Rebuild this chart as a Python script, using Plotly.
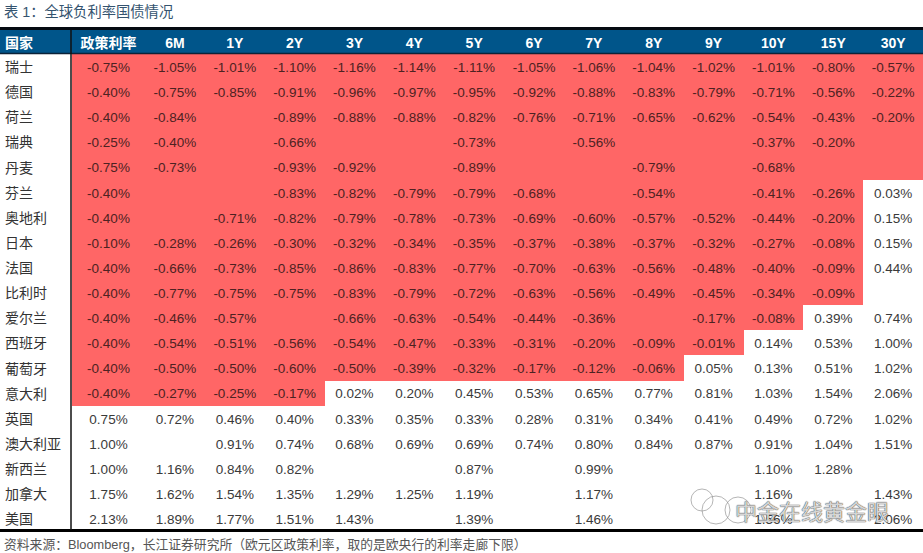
import plotly.graph_objects as go

W, H = 923, 553

tenors = ["政策利率", "6M", "1Y", "2Y", "3Y", "4Y", "5Y", "6Y", "7Y", "8Y", "9Y", "10Y", "15Y", "30Y"]
countries = ["瑞士", "德国", "荷兰", "瑞典", "丹麦", "芬兰", "奥地利", "日本", "法国", "比利时",
             "爱尔兰", "西班牙", "葡萄牙", "意大利", "英国", "澳大利亚", "新西兰", "加拿大", "美国"]

# one list per tenor, top to bottom, None where the source cell is blank
policy = [-0.75, -0.40, -0.40, -0.25, -0.75, -0.40, -0.40, -0.10, -0.40, -0.40, -0.40, -0.40, -0.40, -0.40, 0.75, 1.00, 1.00, 1.75, 2.13]
m6 = [-1.05, -0.75, -0.84, -0.40, -0.73, None, None, -0.28, -0.66, -0.77, -0.46, -0.54, -0.50, -0.27, 0.72, None, 1.16, 1.62, 1.89]
y1 = [-1.01, -0.85, None, None, None, None, -0.71, -0.26, -0.73, -0.75, -0.57, -0.51, -0.50, -0.25, 0.46, 0.91, 0.84, 1.54, 1.77]
y2 = [-1.10, -0.91, -0.89, -0.66, -0.93, -0.83, -0.82, -0.30, -0.85, -0.75, None, -0.56, -0.60, -0.17, 0.40, 0.74, 0.82, 1.35, 1.51]
y3 = [-1.16, -0.96, -0.88, None, -0.92, -0.82, -0.79, -0.32, -0.86, -0.83, -0.66, -0.54, -0.50, 0.02, 0.33, 0.68, None, 1.29, 1.43]
y4 = [-1.14, -0.97, -0.88, None, None, -0.79, -0.78, -0.34, -0.83, -0.79, -0.63, -0.47, -0.39, 0.20, 0.35, 0.69, None, 1.25, None]
y5 = [-1.11, -0.95, -0.82, -0.73, -0.89, -0.79, -0.73, -0.35, -0.77, -0.72, -0.54, -0.33, -0.32, 0.45, 0.33, 0.69, 0.87, 1.19, 1.39]
y6 = [-1.05, -0.92, -0.76, None, None, -0.68, -0.69, -0.37, -0.70, -0.63, -0.44, -0.31, -0.17, 0.53, 0.28, 0.74, None, None, None]
y7 = [-1.06, -0.88, -0.71, -0.56, None, None, -0.60, -0.38, -0.63, -0.56, -0.36, -0.20, -0.12, 0.65, 0.31, 0.80, 0.99, 1.17, 1.46]
y8 = [-1.04, -0.83, -0.65, None, -0.79, -0.54, -0.57, -0.37, -0.56, -0.49, None, -0.09, -0.06, 0.77, 0.34, 0.84, None, None, None]
y9 = [-1.02, -0.79, -0.62, None, None, None, -0.52, -0.32, -0.48, -0.45, -0.17, -0.01, 0.05, 0.81, 0.41, 0.87, None, None, None]
y10 = [-1.01, -0.71, -0.54, -0.37, -0.68, -0.41, -0.44, -0.27, -0.40, -0.34, -0.08, 0.14, 0.13, 1.03, 0.49, 0.91, 1.10, 1.16, 1.56]
y15 = [-0.80, -0.56, -0.43, -0.20, None, -0.26, -0.20, -0.08, -0.09, -0.09, 0.39, 0.53, 0.51, 1.54, 0.72, 1.04, 1.28, None, None]
y30 = [-0.57, -0.22, -0.20, None, None, 0.03, 0.15, 0.15, 0.44, None, 0.74, 1.00, 1.02, 2.06, 1.02, 1.51, None, 1.43, 2.06]

# how many value columns are shaded red in each row (blanks are shaded too)
red_cols = [14, 14, 14, 14, 14, 13, 13, 13, 13, 13, 12, 11, 10, 4, 0, 0, 0, 0, 0]

RED = "#ff6666"
HEADER = "#00558a"
TEXT = "#3a3a3a"
RED_TEXT = "#4d2222"
FONT = "Liberation Sans, Noto Sans CJK SC, sans-serif"

# table geometry: axes run in page pixels
LEFT_COL = 72
FIRST_COL = 73
COL = 59.85
TOP = 30
HEAD = 24
ROW = 25.12
TEXT_SHIFT = 2  # text sits a little below the row middle in the source

series = [policy, m6, y1, y2, y3, y4, y5, y6, y7, y8, y9, y10, y15, y30]
n_rows = len(countries)
n_cols = len(series)

x_edges = [0, LEFT_COL, LEFT_COL + FIRST_COL]
for _ in range(n_cols - 1):
    x_edges.append(x_edges[-1] + COL)
y_edges = [TOP, TOP + HEAD]
for _ in range(n_rows):
    y_edges.append(y_edges[-1] + ROW)
x_mid = [(a + b) / 2 for a, b in zip(x_edges[:-1], x_edges[1:])]
y_mid = [(a + b) / 2 + TEXT_SHIFT for a, b in zip(y_edges[:-1], y_edges[1:])]

# 0 white, 1 red, 2 header band
z = [[2] * (n_cols + 1)]
for n in red_cols:
    z.append([0] + [1 if c < n else 0 for c in range(n_cols)])

fig = go.Figure()
fig.add_trace(go.Heatmap(
    x=x_edges, y=y_edges, z=z, zmin=0, zmax=2, showscale=False, hoverinfo="skip",
    colorscale=[[0, "white"], [0.33, "white"], [0.33, RED], [0.66, RED], [0.66, HEADER], [1, HEADER]],
))

xs, ys, labels, colors = [], [], [], []
for c, s in enumerate(series):
    for r, v in enumerate(s):
        if v is None:
            continue
        xs.append(x_mid[c + 1])
        ys.append(y_mid[r + 1])
        labels.append(f"{v:.2f}%")
        colors.append(RED_TEXT if c < red_cols[r] else TEXT)
fig.add_trace(go.Scatter(
    x=xs, y=ys, text=labels, mode="text", textposition="middle center", hoverinfo="skip",
    textfont=dict(family=FONT, size=13.5, color=colors),
))
fig.add_trace(go.Scatter(
    x=x_mid[1:], y=[y_mid[0]] * n_cols, text=[f"<b>{t}</b>" for t in tenors], mode="text",
    textposition="middle center", hoverinfo="skip",
    textfont=dict(family=FONT, size=14, color="white"),
))
fig.add_trace(go.Scatter(
    x=[5] * n_rows, y=y_mid[1:], text=countries, mode="text", textposition="middle right", hoverinfo="skip",
    textfont=dict(family=FONT, size=14, color="#333333"),
))
fig.add_trace(go.Scatter(
    x=[5], y=[y_mid[0]], text=["<b>国家</b>"], mode="text", textposition="middle right", hoverinfo="skip",
    textfont=dict(family=FONT, size=14, color="white"),
))

shapes = [
    dict(type="line", x0=0, x1=W, y0=28.5, y1=28.5, line=dict(color="#050a12", width=3)),
    dict(type="line", x0=0, x1=W, y0=53.5, y1=53.5, line=dict(color="#0b2238", width=1.5)),
    dict(type="line", x0=0, x1=W, y0=530.5, y1=530.5, line=dict(color="black", width=3)),
    dict(type="line", x0=71, x1=71, y0=30, y1=530, line=dict(color="#111111", width=1.5)),
]
# watermark bubbles
for cx, cy, r in [(702, 500, 11), (716, 510, 14), (738, 510, 13)]:
    shapes.append(dict(type="circle", x0=cx - r, x1=cx + r, y0=cy - r, y1=cy + r,
                       line=dict(color="rgba(150,150,150,0.7)", width=1)))

fig.update_layout(
    width=W, height=H,
    margin=dict(l=0, r=0, t=0, b=0),
    paper_bgcolor="white",
    plot_bgcolor="white",
    showlegend=False,
    xaxis=dict(range=[0, W], visible=False, fixedrange=True),
    yaxis=dict(range=[H, 0], visible=False, fixedrange=True),
    shapes=shapes,
    annotations=[
        dict(text="表 1：全球负利率国债情况", x=2, y=11, xanchor="left", yanchor="middle", showarrow=False,
             font=dict(family=FONT, size=14.3, color="#34536f")),
        dict(text="资料来源：Bloomberg，长江证券研究所（欧元区政策利率，取的是欧央行的利率走廊下限）",
             x=2, y=544, xanchor="left", yanchor="middle", showarrow=False,
             font=dict(family=FONT, size=12.8, color="#555555")),
        dict(text="中金在线黄金眼", x=812, y=512, xanchor="center", yanchor="middle", showarrow=False,
             font=dict(family=FONT, size=22, color="rgba(235,235,235,0.9)",
                       shadow="0 0 1px #333333, 0 0 1px #333333")),
    ],
)

fig.write_html("out.html", config=dict(displayModeBar=False), post_script="document.body.style.margin='0';")
